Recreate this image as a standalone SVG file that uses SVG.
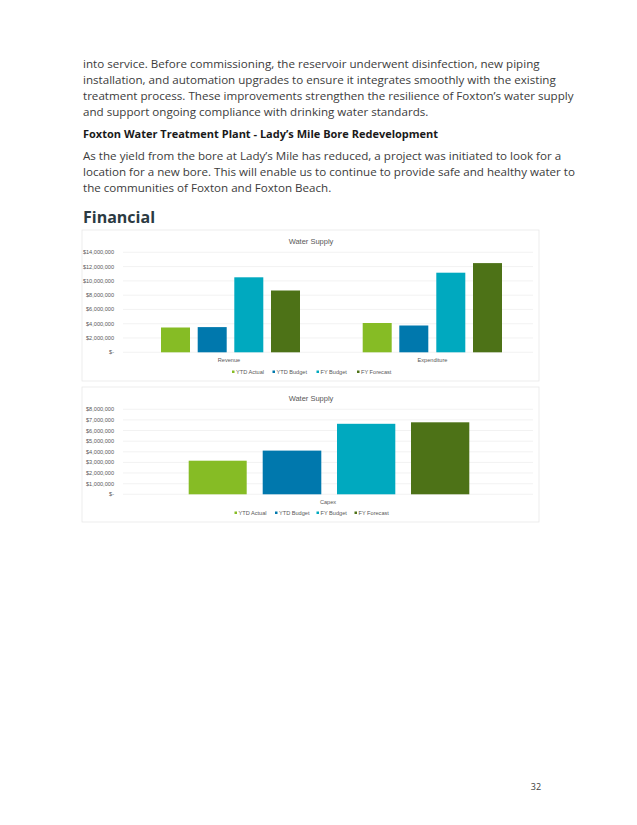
<svg xmlns="http://www.w3.org/2000/svg" width="637" height="825" viewBox="0 0 637 825">
<style>
.b{font-family:"Open Sans",sans-serif;font-size:11.6px;fill:#3c3c3c}
.h{font-family:"Open Sans",sans-serif;font-size:11px;font-weight:bold;fill:#1a1a1a}
.ax{font-family:"Liberation Sans",Arial,sans-serif;font-size:5.6px;fill:#595959}
.t{font-family:"Liberation Sans",Arial,sans-serif;font-size:7.5px;fill:#595959}
.g{stroke:#ececec;stroke-width:0.7}
.c1{fill:#86bc25}.c2{fill:#0078ad}.c3{fill:#00a9bf}.c4{fill:#4d7217}
</style>
<rect width="637" height="825" fill="#fff"/>
<g id="text">
<text class="b" x="83" y="68">into service. Before commissioning, the reservoir underwent disinfection, new piping</text>
<text class="b" x="83" y="84">installation, and automation upgrades to ensure it integrates smoothly with the existing</text>
<text class="b" x="83" y="100">treatment process. These improvements strengthen the resilience of Foxton’s water supply</text>
<text class="b" x="83" y="116">and support ongoing compliance with drinking water standards.</text>
<text class="h" x="83" y="138">Foxton Water Treatment Plant - Lady’s Mile Bore Redevelopment</text>
<text class="b" x="83" y="160">As the yield from the bore at Lady’s Mile has reduced, a project was initiated to look for a</text>
<text class="b" x="83" y="176">location for a new bore. This will enable us to continue to provide safe and healthy water to</text>
<text class="b" x="83" y="192">the communities of Foxton and Foxton Beach.</text>
<text x="83" y="223" style="font-family:'Open Sans',sans-serif;font-size:16px;font-weight:bold;fill:#2b3a42">Financial</text>
<text x="536" y="790" style="font-family:'Open Sans',sans-serif;font-size:9px;fill:#3c3c3c" text-anchor="middle">32</text>
</g>
<g id="chart1">
<rect x="82" y="230" width="457" height="151" fill="#fff" stroke="#e6e6e6" stroke-width="0.7"/>
<text class="t" x="311" y="244" text-anchor="middle">Water Supply</text>
<g>
<line class="g" x1="123" y1="252.3" x2="533" y2="252.3"/><line class="g" x1="123" y1="266.6" x2="533" y2="266.6"/>
<line class="g" x1="123" y1="280.9" x2="533" y2="280.9"/><line class="g" x1="123" y1="295.2" x2="533" y2="295.2"/>
<line class="g" x1="123" y1="309.4" x2="533" y2="309.4"/><line class="g" x1="123" y1="323.7" x2="533" y2="323.7"/>
<line class="g" x1="123" y1="338" x2="533" y2="338"/><line class="g" x1="123" y1="352.3" x2="533" y2="352.3"/>
</g>
<g text-anchor="end">
<text class="ax" x="114" y="254.3">$14,000,000</text><text class="ax" x="114" y="268.6">$12,000,000</text>
<text class="ax" x="114" y="282.9">$10,000,000</text><text class="ax" x="114" y="297.2">$8,000,000</text>
<text class="ax" x="114" y="311.4">$6,000,000</text><text class="ax" x="114" y="325.7">$4,000,000</text>
<text class="ax" x="114" y="340">$2,000,000</text><text class="ax" x="114" y="354.3">$-</text>
</g>
<rect class="c1" x="161" y="327.5" width="29" height="24.8"/>
<rect class="c2" x="197.7" y="327.1" width="29" height="25.2"/>
<rect class="c3" x="234.3" y="277.3" width="29" height="75"/>
<rect class="c4" x="271" y="290.5" width="29" height="61.8"/>
<rect class="c1" x="362.7" y="323" width="29" height="29.3"/>
<rect class="c2" x="399.3" y="325.5" width="29" height="26.8"/>
<rect class="c3" x="436.3" y="272.7" width="29" height="79.6"/>
<rect class="c4" x="473" y="263.1" width="29" height="89.2"/>
<text class="ax" x="229" y="362" text-anchor="middle">Revenue</text>
<text class="ax" x="432.5" y="362" text-anchor="middle">Expenditure</text>
<g>
<rect class="c1" x="232" y="370.5" width="2.5" height="2.5"/><text class="ax" x="236" y="373.5">YTD Actual</text>
<rect class="c2" x="272.5" y="370.5" width="2.5" height="2.5"/><text class="ax" x="276.5" y="373.5">YTD Budget</text>
<rect class="c3" x="316.5" y="370.5" width="2.5" height="2.5"/><text class="ax" x="320.5" y="373.5">FY Budget</text>
<rect class="c4" x="357" y="370.5" width="2.5" height="2.5"/><text class="ax" x="361" y="373.5">FY Forecast</text>
</g>
</g>
<g id="chart2">
<rect x="82" y="387" width="457" height="135" fill="#fff" stroke="#e6e6e6" stroke-width="0.7"/>
<text class="t" x="311" y="400.5" text-anchor="middle">Water Supply</text>
<g>
<line class="g" x1="123" y1="409.3" x2="533" y2="409.3"/><line class="g" x1="123" y1="419.9" x2="533" y2="419.9"/>
<line class="g" x1="123" y1="430.5" x2="533" y2="430.5"/><line class="g" x1="123" y1="441.2" x2="533" y2="441.2"/>
<line class="g" x1="123" y1="451.8" x2="533" y2="451.8"/><line class="g" x1="123" y1="462.4" x2="533" y2="462.4"/>
<line class="g" x1="123" y1="473" x2="533" y2="473"/><line class="g" x1="123" y1="483.7" x2="533" y2="483.7"/>
<line class="g" x1="123" y1="494.3" x2="533" y2="494.3"/>
</g>
<g text-anchor="end">
<text class="ax" x="114" y="411.3">$8,000,000</text><text class="ax" x="114" y="421.9">$7,000,000</text>
<text class="ax" x="114" y="432.5">$6,000,000</text><text class="ax" x="114" y="443.2">$5,000,000</text>
<text class="ax" x="114" y="453.8">$4,000,000</text><text class="ax" x="114" y="464.4">$3,000,000</text>
<text class="ax" x="114" y="475">$2,000,000</text><text class="ax" x="114" y="485.7">$1,000,000</text>
<text class="ax" x="114" y="496.3">$-</text>
</g>
<rect class="c1" x="188.7" y="460.7" width="58" height="33.6"/>
<rect class="c2" x="262.7" y="450.6" width="58.6" height="43.7"/>
<rect class="c3" x="337" y="423.8" width="58.3" height="70.5"/>
<rect class="c4" x="411" y="422.3" width="58.3" height="72"/>
<text class="ax" x="328" y="504" text-anchor="middle">Capex</text>
<g>
<rect class="c1" x="234.5" y="511.5" width="2.5" height="2.5"/><text class="ax" x="238.5" y="514.5">YTD Actual</text>
<rect class="c2" x="275" y="511.5" width="2.5" height="2.5"/><text class="ax" x="279" y="514.5">YTD Budget</text>
<rect class="c3" x="316.5" y="511.5" width="2.5" height="2.5"/><text class="ax" x="320.5" y="514.5">FY Budget</text>
<rect class="c4" x="354.5" y="511.5" width="2.5" height="2.5"/><text class="ax" x="358.5" y="514.5">FY Forecast</text>
</g>
</g>
</svg>
